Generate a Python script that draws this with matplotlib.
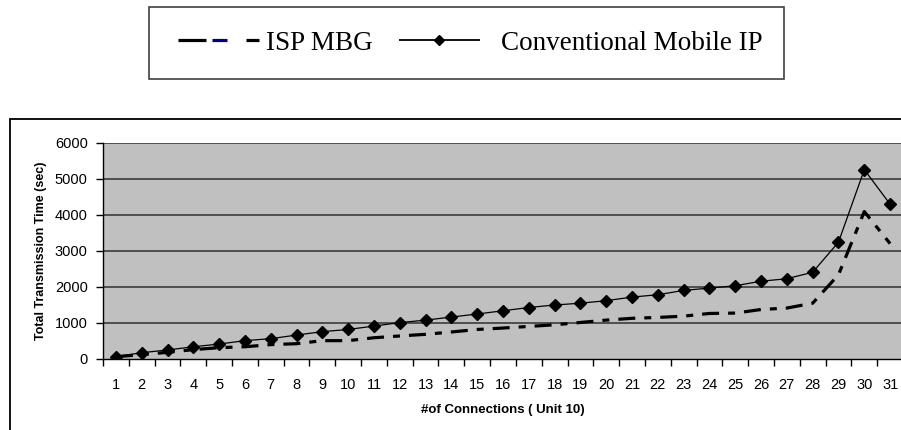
import matplotlib
matplotlib.use("Agg")
import matplotlib.pyplot as plt
from matplotlib.lines import Line2D
from matplotlib.patches import Rectangle
from matplotlib.legend_handler import HandlerBase
from matplotlib.ticker import FixedLocator, NullFormatter, FixedFormatter

plt.rcParams['lines.scale_dashes'] = False

connections = list(range(1, 32))
isp_mbg = [65, 120, 185, 260, 315, 340, 400, 425, 510, 510, 590, 640, 685, 750,
           820, 860, 905, 950, 1015, 1080, 1130, 1155, 1190, 1265, 1275, 1375,
           1415, 1550, 2340, 4095, 3205]
conventional = [65, 175, 250, 340, 415, 510, 565, 665, 760, 820, 915, 1010, 1080,
                1165, 1250, 1340, 1430, 1500, 1550, 1620, 1720, 1785, 1905, 1970,
                2035, 2160, 2230, 2410, 3245, 5260, 4300]
y_ticks = [0, 1000, 2000, 3000, 4000, 5000, 6000]
series_names = ["ISP MBG", "Conventional Mobile IP"]
x_label = "#of Connections ( Unit 10)"
y_label = "Total Transmission Time (sec)"

W, H = 901, 430
fig = plt.figure(figsize=(W / 100, H / 100), dpi=100)

# outer chart frame
fig.patches.append(Rectangle((10 / W, -0.05), 1.0, 1 - 119 / H + 0.05,
                             transform=fig.transFigure, fill=False,
                             edgecolor='black', linewidth=1.3, clip_on=False))

ax_l, ax_r, ax_t, ax_b = 103, 903, 143, 359
ax = fig.add_axes([ax_l / W, 1 - ax_b / H, (ax_r - ax_l) / W, (ax_b - ax_t) / H])
ax.set_facecolor('#C0C0C0')
ax.set_xlim(0.5, 31.5)
ax.set_ylim(0, 6000)

for y in y_ticks[1:]:
    ax.axhline(y, color='#303030', linewidth=1.1, zorder=1)

px = 0.72
ax.plot(connections, isp_mbg, color='black', linewidth=2.3,
        dashes=(17 * px, 9 * px, 7 * px, 9 * px), zorder=3)
ax.plot(connections, conventional, color='black', linewidth=0.9,
        marker='D', markersize=6, zorder=4)

for s in ['top', 'right']:
    ax.spines[s].set_visible(False)
ax.spines['left'].set_linewidth(1.0)
ax.spines['bottom'].set_linewidth(1.0)

ax.set_yticks(y_ticks)
ax.tick_params(axis='y', direction='out', length=5, width=1, pad=6, labelsize=10.5)
ax.xaxis.set_major_locator(FixedLocator([i + 0.5 for i in range(0, 32)]))
ax.xaxis.set_major_formatter(NullFormatter())
ax.xaxis.set_minor_locator(FixedLocator(connections))
ax.xaxis.set_minor_formatter(FixedFormatter([str(c) for c in connections]))
ax.tick_params(axis='x', which='major', direction='out', length=5, width=1)
ax.tick_params(axis='x', which='minor', length=0, pad=14, labelsize=10.5)

for lab in ax.get_yticklabels() + ax.get_xticklabels(minor=True):
    lab.set_family('Liberation Sans')

ax.set_xlabel(x_label, fontsize=9.5, fontweight='bold', family='Liberation Sans',
              labelpad=8)
ax.set_ylabel(y_label, fontsize=9, fontweight='bold', family='Liberation Sans',
              labelpad=6)

# legend frame
fig.patches.append(Rectangle((149 / W, 1 - 79 / H), (784 - 149) / W, 72 / H,
                             transform=fig.transFigure, fill=False,
                             edgecolor='#404040', linewidth=1.2))


class SegmentHandler(HandlerBase):
    """Legend key drawn as solid segments (fractions of key width, colour),
    with an optional marker at a given fraction."""
    def __init__(self, segments, lw, marker_at=None, marker='D', msize=5):
        super().__init__()
        self.segments = segments
        self.lw = lw
        self.marker_at = marker_at
        self.marker = marker
        self.msize = msize

    def create_artists(self, legend, orig_handle, xdescent, ydescent,
                       width, height, fontsize, trans):
        y = height / 2 - ydescent
        arts = []
        for a, b, c in self.segments:
            arts.append(Line2D([-xdescent + a * width, -xdescent + b * width], [y, y],
                               color=c, linewidth=self.lw, solid_capstyle='butt',
                               transform=trans))
        if self.marker_at is not None:
            arts.append(Line2D([-xdescent + self.marker_at * width], [y],
                               linestyle='none', marker=self.marker,
                               markersize=self.msize, color='black',
                               transform=trans))
        return arts


KEY = 95.0  # key width in px
h_isp = Line2D([], [], color='black', linewidth=2.3)
h_conv = Line2D([], [], color='black', linewidth=1.2, marker='D', markersize=5)
isp_handler = SegmentHandler([(14 / KEY, 42 / KEY, 'black'),
                              (48 / KEY, 63 / KEY, '#000080'),
                              (82 / KEY, 1.0, 'black')], 2.3)
conv_handler = SegmentHandler([(0.0, 81 / KEY, 'black')], 1.3,
                              marker_at=40.5 / KEY, msize=5)

fs_px = 19.5 / 0.72
fig.legend([h_isp, h_conv], series_names,
           handler_map={h_isp: isp_handler, h_conv: conv_handler},
           loc='center', bbox_to_anchor=(463 / W, 1 - 43 / H),
           ncol=2, frameon=False, handlelength=KEY / fs_px,
           handletextpad=7 / fs_px, columnspacing=26 / fs_px, borderpad=0,
           prop={'family': 'Liberation Serif', 'size': 19.5})

fig.savefig('out.png', dpi=100)
